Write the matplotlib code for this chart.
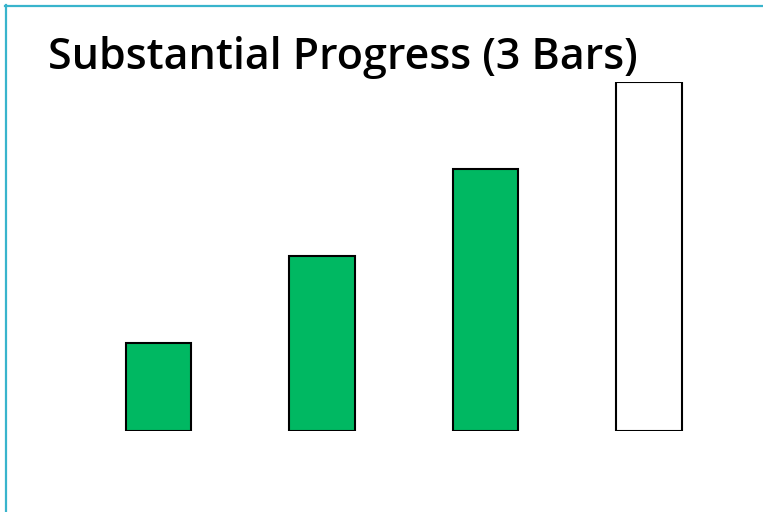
import matplotlib
matplotlib.use('Agg')
import matplotlib.pyplot as plt
from matplotlib.lines import Line2D

title = 'Substantial Progress (3 Bars)'
values = [1, 2, 3, 4]
colors = ['#00b862', '#00b862', '#00b862', 'white']

W, H = 763, 512
fig = plt.figure(figsize=(W / 100, H / 100), dpi=100)

# axes placed in pixels: left 76.75, bottom at y=430, top at y=81
ax = fig.add_axes([76.75 / W, (H - 430.5) / H, 654 / W, 349 / H])
ax.bar(range(len(values)), values, width=0.4, color=colors,
       edgecolor='black', linewidth=1.5)
ax.set_xlim(-0.5, 3.5)
ax.set_ylim(0, 4)
ax.axis('off')

t = fig.text(48 / W, 1 - 69 / H, title, fontsize=31, family='Open Sans',
             weight='semibold', va='baseline', ha='left')

# cyan frame on top and left
frame_col = '#39b4cc'
fig.add_artist(Line2D([5 / W, 1], [1 - 5.5 / H, 1 - 5.5 / H], color=frame_col, lw=1.6))
fig.add_artist(Line2D([5.5 / W, 5.5 / W], [0, 1 - 5 / H], color=frame_col, lw=1.6))

fig.savefig('out.png', dpi=100)
fig.canvas.draw()
print(t.get_window_extent())
